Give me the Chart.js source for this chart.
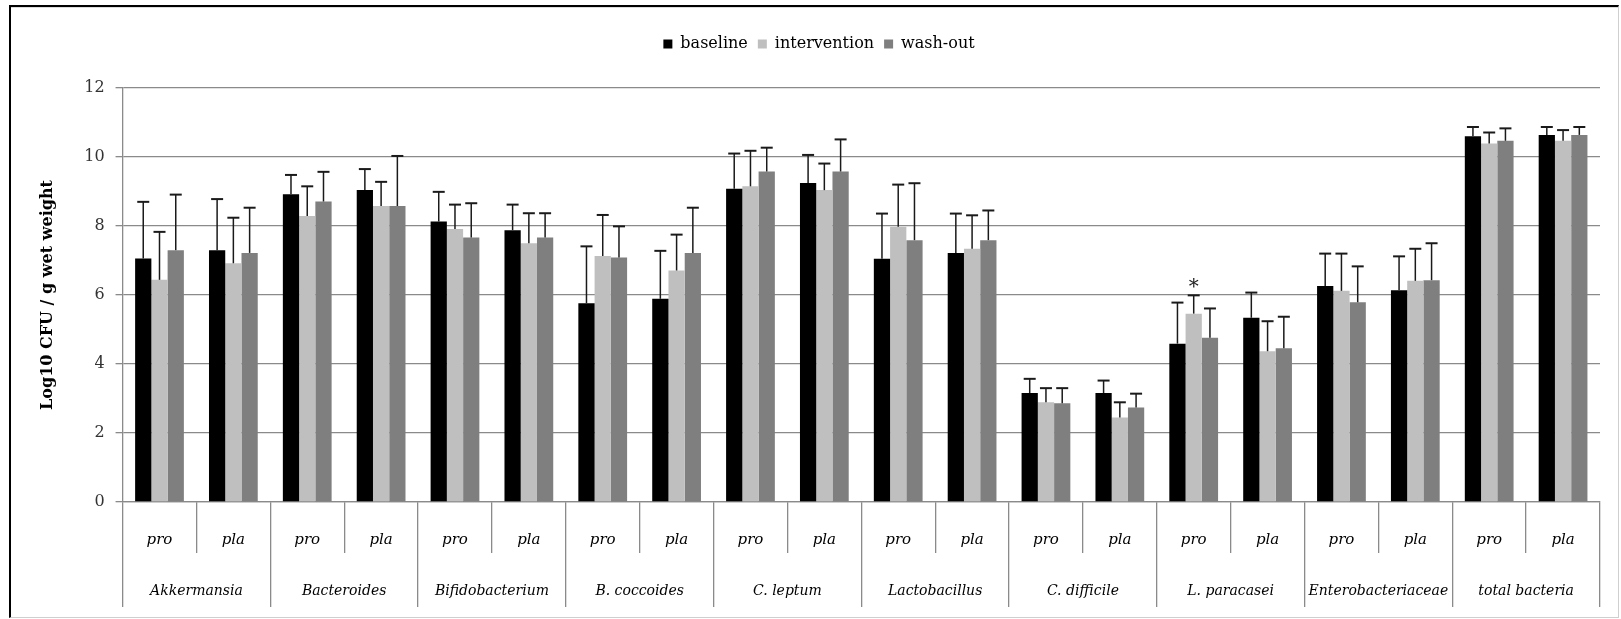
<!DOCTYPE html>
<html lang="en">
<head>
  <meta charset="UTF-8" />
  <title>Log10 CFU per g wet weight</title>
  <script src="https://cdn.jsdelivr.net/npm/chart.js"></script>
  <style>
    html, body { margin: 0; padding: 0; background: #fff; overflow: hidden; }
    #wrap { position: relative; width: 1621px; height: 619px; }
    #frame {
      position: absolute; left: 9px; top: 5px; right: 2px; bottom: 1px;
      border-top: 2px solid #000; border-left: 2px solid #000;
      border-right: 1px solid #cfcfcf; border-bottom: 1px solid #cfcfcf;
      box-shadow: inset 0 1px 0 #dcdcdc;
    }
    canvas { position: absolute; left: 0; top: 0; }
  </style>
</head>
<body>
  <div id="wrap">
    <div id="frame"></div>
    <canvas id="chart" width="1621" height="619"></canvas>
  </div>

  <script>
    // x axis: pro / pla per bacterial group
    const subLabels = ['pro', 'pla', 'pro', 'pla', 'pro', 'pla', 'pro', 'pla', 'pro', 'pla',
                       'pro', 'pla', 'pro', 'pla', 'pro', 'pla', 'pro', 'pla', 'pro', 'pla'];
    const groupLabels = ['Akkermansia', 'Bacteroides', 'Bifidobacterium', 'B. coccoides', 'C. leptum',
                         'Lactobacillus', 'C. difficile', 'L. paracasei', 'Enterobacteriaceae', 'total bacteria'];
    const yTicks = [0, 2, 4, 6, 8, 10, 12];

    // means (log10 CFU / g wet weight)
    const baseline = [7.06, 7.30, 8.92, 9.04, 8.13, 7.88, 5.76, 5.89, 9.08, 9.25,
                      7.05, 7.22, 3.16, 3.16, 4.59, 5.34, 6.26, 6.14, 10.60, 10.64];
    const intervention = [6.44, 6.92, 8.29, 8.58, 7.91, 7.50, 7.13, 6.71, 9.15, 9.04,
                          7.98, 7.34, 2.89, 2.45, 5.46, 4.37, 6.12, 6.41, 10.39, 10.47];
    const washout = [7.30, 7.22, 8.71, 8.58, 7.67, 7.67, 7.09, 7.22, 9.58, 9.58,
                     7.59, 7.59, 2.86, 2.74, 4.76, 4.46, 5.79, 6.43, 10.47, 10.64];

    // standard deviations (upper error bars)
    const baselineSd = [1.64, 1.48, 0.56, 0.61, 0.86, 0.74, 1.65, 1.39, 1.02, 0.81,
                        1.31, 1.14, 0.41, 0.36, 1.19, 0.73, 0.94, 0.98, 0.27, 0.23];
    const interventionSd = [1.39, 1.32, 0.86, 0.70, 0.71, 0.87, 1.19, 1.04, 1.03, 0.77,
                            1.22, 0.97, 0.41, 0.44, 0.53, 0.87, 1.08, 0.93, 0.32, 0.31];
    const washoutSd = [1.61, 1.31, 0.86, 1.45, 0.99, 0.70, 0.90, 1.31, 0.69, 0.93,
                       1.65, 0.86, 0.44, 0.40, 0.85, 0.91, 1.04, 1.07, 0.36, 0.23];

    // significance marks: dataset index, category index
    const sigMarks = [{ dataset: 1, index: 14, text: '*' }];

    const gridGray = '#8a8a8a';
    const serif = '"DejaVu Serif", serif';

    const errorBars = {
      id: 'errorBars',
      afterDatasetsDraw(chart) {
        const ctx = chart.ctx;
        const yScale = chart.scales.y;
        ctx.save();
        ctx.strokeStyle = '#1a1a1a';
        chart.data.datasets.forEach((ds, i) => {
          const meta = chart.getDatasetMeta(i);
          meta.data.forEach((bar, j) => {
            const top = yScale.getPixelForValue(ds.data[j] + ds.sd[j]);
            ctx.lineWidth = 1.5;
            ctx.beginPath();
            ctx.moveTo(bar.x, bar.y);
            ctx.lineTo(bar.x, top);
            ctx.stroke();
            ctx.lineWidth = 2;
            ctx.beginPath();
            ctx.moveTo(bar.x - 6, top);
            ctx.lineTo(bar.x + 6, top);
            ctx.stroke();
          });
        });
        ctx.fillStyle = '#222';
        ctx.font = '20px ' + serif;
        ctx.textAlign = 'center';
        ctx.textBaseline = 'bottom';
        sigMarks.forEach(m => {
          const ds = chart.data.datasets[m.dataset];
          const bar = chart.getDatasetMeta(m.dataset).data[m.index];
          const top = yScale.getPixelForValue(ds.data[m.index] + ds.sd[m.index]);
          ctx.fillText(m.text, bar.x, top + 2);
        });
        ctx.restore();
      }
    };

    const legendGap = {
      id: 'legendGap',
      afterInit(chart) {
        const fit = chart.legend.fit;
        chart.legend.fit = function () {
          fit.bind(chart.legend)();
          this.height += 26;
        };
      }
    };

    new Chart(document.getElementById('chart'), {
      type: 'bar',
      data: {
        labels: subLabels,
        datasets: [
          { label: 'baseline', data: baseline, sd: baselineSd, backgroundColor: '#000000' },
          { label: 'intervention', data: intervention, sd: interventionSd, backgroundColor: '#bfbfbf' },
          { label: 'wash-out', data: washout, sd: washoutSd, backgroundColor: '#7f7f7f' }
        ]
      },
      options: {
        responsive: false,
        animation: false,
        datasets: { bar: { categoryPercentage: 0.66, barPercentage: 1.0 } },
        layout: { padding: { left: 38, right: 21, top: 26, bottom: 19 } },
        plugins: {
          tooltip: { enabled: false },
          legend: {
            position: 'top',
            labels: {
              boxWidth: 9, boxHeight: 9, padding: 10, color: '#000',
              font: { family: serif, size: 16 }
            }
          }
        },
        scales: {
          y: {
            min: 0, max: 12,
            afterBuildTicks: axis => { axis.ticks = yTicks.map(v => ({ value: v })); },
            grid: { color: gridGray, lineWidth: 1.3, tickLength: 7 },
            border: { color: gridGray, width: 1.3 },
            ticks: { padding: 11, color: '#333', font: { family: serif, size: 16 } },
            title: {
              display: true, text: 'Log10 CFU / g wet weight', color: '#000',
              font: { family: serif, size: 16, weight: 'bold' },
              padding: { top: 0, bottom: 16 }
            }
          },
          x: {
            position: 'bottom',
            grid: { offset: true, drawOnChartArea: false, color: gridGray, lineWidth: 1.3, tickLength: 51 },
            border: { color: gridGray, width: 1.3 },
            ticks: {
              autoSkip: false, maxRotation: 0, padding: -22, color: '#000',
              font: { family: serif, size: 15, style: 'italic' }
            },
            afterFit: scale => { scale.height = 51; }
          },
          x2: {
            type: 'category',
            position: 'bottom',
            labels: groupLabels,
            grid: { offset: true, drawOnChartArea: false, color: gridGray, lineWidth: 1.3, tickLength: 54 },
            border: { display: false },
            ticks: {
              autoSkip: false, maxRotation: 0, padding: -24, color: '#000',
              font: { family: serif, size: 14, style: 'italic' }
            },
            afterFit: scale => { scale.height = 47; }
          }
        }
      },
      plugins: [errorBars, legendGap]
    });
  </script>
</body>
</html>
